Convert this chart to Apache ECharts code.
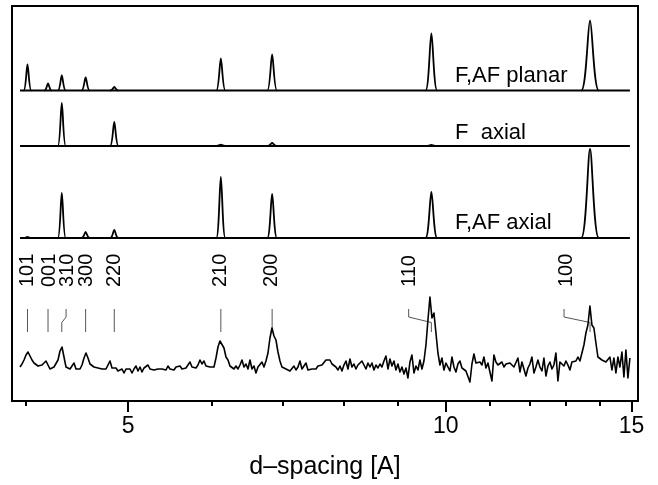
<!DOCTYPE html>
<html>
<head>
<meta charset="utf-8">
<script src="https://cdn.jsdelivr.net/npm/echarts@6/dist/echarts.min.js"></script>
<style>
  html, body { margin: 0; padding: 0; background: #fff; }
  #chart { width: 658px; height: 485px; }
</style>
</head>
<body>
<div id="chart"></div>
<script>
// Reflections (hkl) and their d-spacings in Å
const hklLabels = ['101', '001', '310', '300', '220', '210', '200', '110', '100'];
const hklD = [4.013, 4.197, 4.325, 4.556, 4.850, 6.120, 6.845, 9.690, 13.70];

// Simulated peak intensities for each model, in hkl order
const planarI   = [26, 7, 15, 13, 3.5, 32, 36, 57, 70];
const fAxialI   = [0, 0, 43, 0, 24, 1.3, 3, 1, 0];
const fafAxialI = [1, 0, 45, 6, 8, 61, 44, 46, 89];

const traceNames = ['F,AF planar', 'F  axial', 'F,AF axial'];

// Measured pattern: scan limits (Å) and counts, points evenly spaced in log d
const scanStart = 3.948;
const scanEnd = 14.946;
const measuredCounts = [
  14, 17, 21, 26, 29, 25, 21, 18, 16, 15,
  14, 16, 18, 20, 18, 12, 12, 14, 16, 21,
  30, 34, 24, 14, 14, 12, 14, 18, 12, 14,
  12, 16, 23, 28, 23, 17, 15, 14, 15, 13,
  14, 12, 14, 12, 16, 20, 13, 11, 13, 10,
  9, 12, 8, 12, 14, 12, 8, 12, 15, 10,
  14, 9, 13, 15, 16, 12, 14, 11, 13, 12,
  14, 12, 14, 11, 15, 12, 14, 11, 14, 12,
  15, 12, 14, 13, 16, 19, 14, 15, 13, 16,
  21, 17, 20, 15, 16, 14, 15, 14, 23, 34,
  40, 38, 33, 24, 21, 15, 17, 12, 15, 12,
  16, 21, 14, 17, 12, 21, 12, 15, 8, 14,
  12, 19, 14, 20, 28, 43, 53, 45, 41, 29,
  20, 14, 16, 12, 14, 10, 12, 15, 11, 14,
  20, 12, 14, 18, 11, 13, 12, 14, 12, 15,
  14, 16, 14, 21, 19, 21, 17, 19, 14, 11,
  15, 10, 16, 20, 12, 22, 14, 17, 12, 16,
  14, 20, 16, 12, 18, 14, 18, 11, 16, 13,
  17, 14, 20, 25, 12, 22, 15, 20, 11, 17,
  9, 14, 7, 13, 3, 19, 26, 8, 15, 11,
  21, 12, 20, 36, 61, 84, 63, 68, 48, 28,
  16, 23, 11, 18, 14, 10, 24, 14, 9, 17,
  20, 13, 15, 10, 8, -1, 17, 27, 18, 16,
  19, 16, 24, 13, 18, 9, 0, 26, 19, 16,
  18, 19, 14, 17, 15, 18, 19, 14, 16, 23,
  9, 19, 17, 5, 13, 17, 24, 8, 14, 21,
  14, 10, 23, 5, 15, 19, 12, 16, 28, 0,
  19, 17, 15, 20, 16, 11, 19, 17, 20, 24,
  20, 28, 36, 48, 56, 75, 56, 53, 38, 24,
  23, 21, 23, 19, 17, 24, 11, 23, 8, 24,
  14, 29, 4, 31, 3, 23
];

// d-spacing tick marks
const majorTicks = [5, 10, 15];
const minorTicks = [4, 6, 7, 8, 9, 11, 12, 13, 14];

// ---- layout / style ----
const FONT = '"Liberation Sans", Arial, Helvetica, sans-serif';
const X_MIN = 0.58879, X_MAX = 1.18219;          // log10 d at the frame edges
const Y_MAX = 395;
const OFFSET = { planar: 310.5, fAxial: 255, fafAxial: 163, measured: 20 };
const PEAK_HALF_W = [3.8, 3.8, 3.9, 4.0, 4.1, 4.5, 4.8, 5.8, 8.8];   // px
const MARK_TOP = 92, MARK_BOTTOM = 69, LABEL_BASE = 114;
const MARK_JOG = [0, 0, 4.3, 0, 0, 0, 0, -22.7, -26];                 // px
const LABEL_DX = [-0.5, 1.8, 6, 1.3, 0.4, 0, -0.3, -22, -24];         // px
const INK = '#000';
const TRACE_W = 1.8;

const lg = Math.log10;

function peakRenderer(base) {
  return function (params, api) {
    const h = api.value(1);
    if (!(h > 0)) return null;
    const i = params.dataIndex;
    const top = api.coord([api.value(0), base + h]);
    const bot = api.coord([api.value(0), base]);
    const w = PEAK_HALF_W[i];
    const x = bot[0], yb = bot[1], yt = top[1];
    const d = 'M' + (x - w) + ' ' + yb +
      'C' + (x - 0.4 * w) + ' ' + yb + ' ' + (x - 0.25 * w) + ' ' + yt + ' ' + x + ' ' + yt +
      'C' + (x + 0.25 * w) + ' ' + yt + ' ' + (x + 0.4 * w) + ' ' + yb + ' ' + (x + w) + ' ' + yb;
    return {
      type: 'path',
      shape: { pathData: d },
      style: { stroke: INK, lineWidth: TRACE_W, fill: null, lineJoin: 'round' }
    };
  };
}

function traceSeries(name, intensities, base) {
  return [
    {
      name: name,
      type: 'line',
      data: [[lg(scanStart), base], [lg(scanEnd), base]],
      symbol: 'none',
      lineStyle: { color: INK, width: TRACE_W },
      silent: true,
      z: 3
    },
    {
      name: name,
      type: 'custom',
      data: hklD.map((d, i) => [lg(d), intensities[i]]),
      encode: { x: 0, y: 1 },
      renderItem: peakRenderer(base),
      silent: true,
      z: 4
    }
  ];
}

function markerRenderer(params, api) {
  const i = params.dataIndex;
  const xv = api.value(0);
  const top = api.coord([xv, MARK_TOP]);
  const bot = api.coord([xv, MARK_BOTTOM]);
  const lab = api.coord([xv, LABEL_BASE]);
  const jog = MARK_JOG[i];
  const pts = jog
    ? [[top[0] + jog, top[1]], [top[0] + jog, top[1] + 8], [top[0], top[1] + 13.5], [bot[0], bot[1]]]
    : [[top[0], top[1]], [bot[0], bot[1]]];
  return {
    type: 'group',
    children: [
      { type: 'polyline', shape: { points: pts }, style: { stroke: '#555', lineWidth: 1, fill: null } },
      {
        type: 'text', x: lab[0] + LABEL_DX[i], y: lab[1], rotation: Math.PI / 2,
        style: { text: hklLabels[i], font: '20px ' + FONT, fill: INK, align: 'left', verticalAlign: 'middle' }
      }
    ]
  };
}

const n = measuredCounts.length;
const lo = lg(scanStart), step = (lg(scanEnd) - lo) / (n - 1);
const measuredData = measuredCounts.map((c, i) => [lo + i * step, c + OFFSET.measured]);

const chart = echarts.init(document.getElementById('chart'), null, { renderer: 'canvas' });
chart.setOption({
  animation: false,
  backgroundColor: '#fff',
  grid: { left: 12, right: 20, top: 6, bottom: 84, show: true, borderColor: INK, borderWidth: 2, backgroundColor: 'transparent' },
  xAxis: [
    {
      type: 'value', min: X_MIN, max: X_MAX, position: 'bottom',
      axisLine: { show: true, lineStyle: { color: INK, width: 2 } },
      axisTick: { show: true, inside: false, length: 11, customValues: majorTicks.map(lg), lineStyle: { color: INK, width: 2 } },
      axisLabel: {
        show: true, customValues: majorTicks.map(lg), margin: 14,
        formatter: v => String(Math.round(Math.pow(10, v))),
        fontSize: 23, fontFamily: FONT, color: INK
      },
      splitLine: { show: false },
      name: 'd\u2013spacing [A]', nameLocation: 'middle', nameGap: 54,
      nameTextStyle: { fontSize: 25, fontFamily: FONT, color: INK }
    },
    {
      type: 'value', min: X_MIN, max: X_MAX, position: 'bottom',
      axisLine: { show: false },
      axisTick: { show: true, inside: false, length: 5, customValues: minorTicks.map(lg), lineStyle: { color: INK, width: 2 } },
      axisLabel: { show: false },
      splitLine: { show: false }
    }
  ],
  yAxis: { type: 'value', min: 0, max: Y_MAX, show: false, splitLine: { show: false } },
  graphic: [
    { type: 'text', x: 455, y: 76, style: { text: traceNames[0], font: '22px ' + FONT, fill: INK, verticalAlign: 'middle' } },
    { type: 'text', x: 455, y: 132.5, style: { text: traceNames[1], font: '22px ' + FONT, fill: INK, verticalAlign: 'middle' } },
    { type: 'text', x: 455, y: 223, style: { text: traceNames[2], font: '22px ' + FONT, fill: INK, verticalAlign: 'middle' } }
  ],
  series: [
    ...traceSeries(traceNames[0], planarI, OFFSET.planar),
    ...traceSeries(traceNames[1], fAxialI, OFFSET.fAxial),
    ...traceSeries(traceNames[2], fafAxialI, OFFSET.fafAxial),
    {
      name: 'hkl',
      type: 'custom',
      data: hklD.map(d => [lg(d), 0]),
      encode: { x: 0, y: 1 },
      renderItem: markerRenderer,
      silent: true,
      z: 2
    },
    {
      name: 'measured',
      type: 'line',
      data: measuredData,
      symbol: 'none',
      lineStyle: { color: INK, width: 1.6, join: 'round' },
      silent: true,
      z: 5
    }
  ]
});
</script>
</body>
</html>
